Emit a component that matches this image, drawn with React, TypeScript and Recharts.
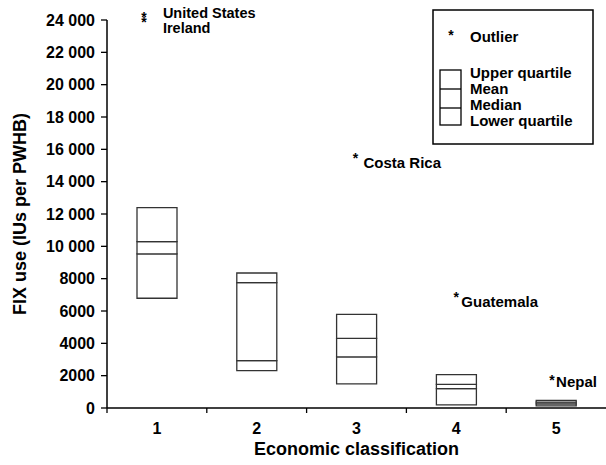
import React from 'react';
import { ComposedChart, Bar, XAxis, YAxis, ReferenceDot } from 'recharts';

// ---- data ----
const classes = ['1', '2', '3', '4', '5'];
const lowerQuartile = [6790, 2310, 1490, 190, 130];
const medianValues = [9530, 2930, 3160, 1200, 260];
const meanValues = [10290, 7750, 4310, 1460, 360];
const upperQuartile = [12390, 8350, 5790, 2070, 470];

const outlierNames = ['United States', 'Ireland', 'Costa Rica', 'Guatemala', 'Nepal'];
const outlierClass = ['1', '1', '3', '4', '5'];
const outlierValues = [24370, 24060, 15650, 7050, 1940];

const yTicks = [0, 2000, 4000, 6000, 8000, 10000, 12000, 14000, 16000, 18000, 20000, 22000, 24000];
const legendBoxItems = ['Upper quartile', 'Mean', 'Median', 'Lower quartile'];
const legendOutlierLabel = 'Outlier';
const xTitle = 'Economic classification';
const yTitle = 'FIX use (IUs per PWHB)';

// ---- layout / style ----
const W = 606;
const H = 465;
const Y_AXIS_W = 107;
const X_AXIS_H = 57;
const BAND = (W - Y_AXIS_W) / classes.length;
const FONT = '"Liberation Sans", Arial, sans-serif';
const BOX_STROKE = '#333';

const rows = classes.map((c, i) => ({
  cls: c,
  base: lowerQuartile[i],
  seg1: medianValues[i] - lowerQuartile[i],
  seg2: meanValues[i] - medianValues[i],
  seg3: upperQuartile[i] - meanValues[i],
}));

const outlierStyle: Record<string, { ax: number; lx: number; ly: number; fs: number }> = {
  'United States': { ax: -13, lx: 6, ly: 4, fs: 14.5 },
  Ireland: { ax: -13, lx: 6, ly: 14, fs: 14.5 },
  'Costa Rica': { ax: -1, lx: 7, ly: 13, fs: 15 },
  Guatemala: { ax: 0, lx: 5, ly: 13, fs: 15 },
  Nepal: { ax: -4, lx: 0, ly: 10, fs: 15 },
};

const fmt = (v: number) => (v >= 10000 ? `${Math.floor(v / 1000)} ${String(v % 1000).padStart(3, '0')}` : String(v));

const XTick = (props: any) => {
  const { x, y, payload } = props;
  const half = BAND / 2;
  return (
    <g>
      <line x1={x - half} x2={x - half} y1={y} y2={y + 5} stroke="#000" strokeWidth={1.3} />
      <text x={x} y={y + 26} textAnchor="middle" fontSize={16} fontWeight="bold" fill="#000" fontFamily={FONT}>
        {payload.value}
      </text>
    </g>
  );
};

const renderOutlier = (name: string) => (p: any) => {
  const st = outlierStyle[name] || { ax: 0, lx: 6, ly: 13, fs: 15 };
  const { cx, cy } = p;
  return (
    <g>
      <text x={cx + st.ax} y={cy + 8} textAnchor="middle" fontSize={14} fontWeight="bold" fill="#000" fontFamily={FONT}>
        *
      </text>
      <text x={cx + st.lx} y={cy + st.ly} fontSize={st.fs} fontWeight="bold" fill="#000" fontFamily={FONT}>
        {name}
      </text>
    </g>
  );
};

const LegendBox = () => (
  <svg
    width={162}
    height={136}
    style={{ position: 'absolute', left: 432, top: 9, fontFamily: FONT }}
  >
    <rect x={1} y={1} width={160} height={134} fill="#fff" stroke="#000" strokeWidth={1.5} />
    <text x={19} y={31} textAnchor="middle" fontSize={14} fontWeight="bold">*</text>
    <text x={38} y={33} fontSize={15} fontWeight="bold">{legendOutlierLabel}</text>
    <rect x={8} y={61} width={21} height={55} fill="#fff" stroke="#000" strokeWidth={1.3} />
    <line x1={8} x2={29} y1={80} y2={80} stroke="#000" strokeWidth={1.3} />
    <line x1={8} x2={29} y1={99} y2={99} stroke="#000" strokeWidth={1.3} />
    {legendBoxItems.map((t, i) => (
      <text key={t} x={38} y={69 + i * 16} fontSize={15} fontWeight="bold">{t}</text>
    ))}
  </svg>
);

export default function App() {
  return (
    <div style={{ position: 'relative', width: W, height: H }}>
      <style>{'body{margin:0}'}</style>
      <ComposedChart
        width={W}
        height={H}
        data={rows}
        margin={{ top: 20, right: 0, bottom: 0, left: 0 }}
        style={{ fontFamily: FONT }}
      >
        <XAxis
          dataKey="cls"
          type="category"
          height={X_AXIS_H}
          tickLine={false}
          tickSize={0}
          tickMargin={0}
          axisLine={{ stroke: '#000', strokeWidth: 1.5 }}
          tick={<XTick />}
          interval={0}
          label={{
            content: (p: any) => {
              const vb = p.viewBox;
              return (
                <text x={vb.x + vb.width / 2} y={vb.y + 47} textAnchor="middle" fontSize={18} fontWeight="bold" fill="#000" fontFamily={FONT}>
                  {xTitle}
                </text>
              );
            },
          }}
        />
        <YAxis
          type="number"
          width={Y_AXIS_W}
          domain={[0, 24000]}
          ticks={yTicks}
          interval={0}
          tickFormatter={fmt}
          tickSize={6}
          tickMargin={6}
          tickLine={{ stroke: '#000', strokeWidth: 1.3 }}
          axisLine={{ stroke: '#000', strokeWidth: 1.5 }}
          tick={{ fontSize: 16, fontWeight: 'bold', fill: '#000', fontFamily: FONT }}
          label={{
            content: (p: any) => {
              const vb = p.viewBox;
              const cx = vb.x + 26;
              const cy = vb.y + vb.height / 2;
              return (
                <text x={cx} y={cy} transform={`rotate(-90, ${cx}, ${cy})`} textAnchor="middle" fontSize={18} fontWeight="bold" fill="#000" fontFamily={FONT}>
                  {yTitle}
                </text>
              );
            },
          }}
        />
        <Bar dataKey="base" stackId="box" fill="transparent" stroke="none" barSize={40} isAnimationActive={false} />
        <Bar dataKey="seg1" stackId="box" fill="#fff" stroke={BOX_STROKE} strokeWidth={1.3} barSize={40} isAnimationActive={false} />
        <Bar dataKey="seg2" stackId="box" fill="#fff" stroke={BOX_STROKE} strokeWidth={1.3} barSize={40} isAnimationActive={false} />
        <Bar dataKey="seg3" stackId="box" fill="#fff" stroke={BOX_STROKE} strokeWidth={1.3} barSize={40} isAnimationActive={false} />
        {outlierNames.map((n, i) => (
          <ReferenceDot
            key={n}
            x={outlierClass[i]}
            y={outlierValues[i]}
            ifOverflow="visible"
            shape={renderOutlier(n)}
          />
        ))}
      </ComposedChart>
      <LegendBox />
    </div>
  );
}
